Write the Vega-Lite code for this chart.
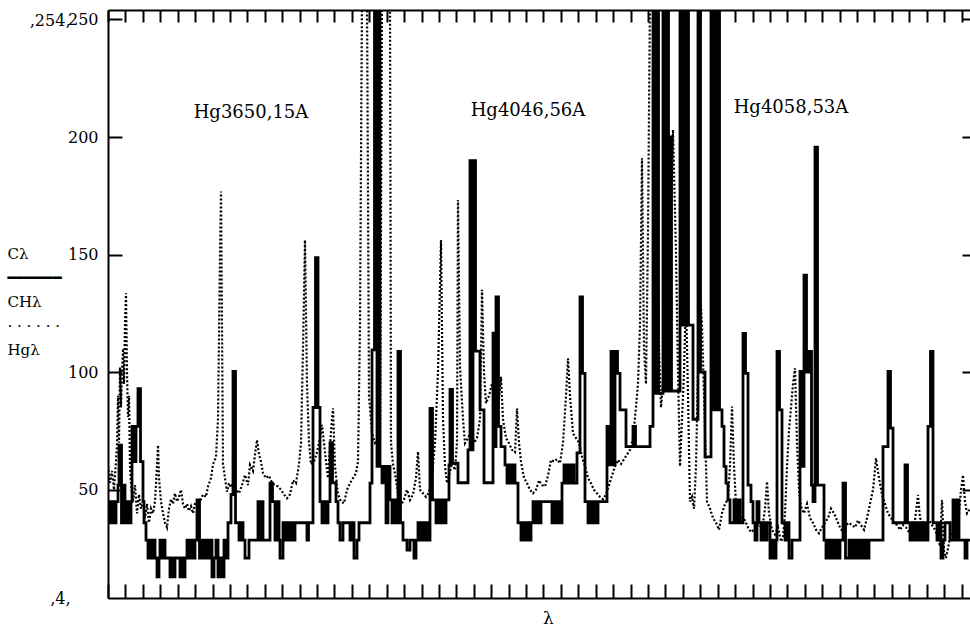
{
  "$schema": "https://vega.github.io/schema/vega-lite/v6.json",
  "width": 862,
  "height": 588,
  "autosize": {"type": "none"},
  "padding": {"left": 108, "top": 10, "right": 0, "bottom": 28},
  "background": "white",
  "config": {"view": {"stroke": null}},
  "datasets": {
    "solid": [
      {"x":0,"y":45},{"x":2,"y":36},{"x":4,"y":45},{"x":6,"y":36},{"x":8,"y":45},{"x":10,"y":52},{"x":11,"y":69},{"x":13.5,"y":36},{"x":15,"y":52},{"x":17,"y":36},{"x":19,"y":45},{"x":21,"y":36},{"x":23,"y":45},{"x":24,"y":77},{"x":26,"y":62},{"x":28,"y":77},{"x":30,"y":93},{"x":32.5,"y":62},{"x":35,"y":45},{"x":36,"y":36},{"x":38,"y":28.6},
      {"x":40,"y":21},{"x":42,"y":28.6},{"x":44,"y":21},{"x":46,"y":28.6},{"x":47,"y":21},{"x":49,"y":13},{"x":51,"y":21},{"x":52,"y":28.6},{"x":54,"y":21},{"x":56,"y":28.6},{"x":57,"y":21},{"x":62,"y":13},{"x":64,"y":21},{"x":65,"y":13},{"x":67,"y":21},{"x":72,"y":13},{"x":74,"y":21},{"x":75,"y":13},{"x":77,"y":21},{"x":79,"y":28.6},
      {"x":81,"y":21},{"x":83,"y":28.6},{"x":85,"y":21},{"x":87,"y":28.6},{"x":89,"y":45.7},{"x":91.5,"y":21},{"x":94,"y":28.6},{"x":96,"y":21},{"x":98,"y":28.6},{"x":100,"y":21},{"x":102,"y":28.6},{"x":104,"y":13},{"x":106,"y":21},{"x":108,"y":28.6},{"x":110,"y":13},{"x":112,"y":21},{"x":114,"y":13},{"x":116,"y":28.6},{"x":118,"y":21},{"x":120,"y":36},
      {"x":123,"y":48},{"x":125,"y":100.3},{"x":127.5,"y":36},{"x":131,"y":28.6},{"x":133,"y":36},{"x":135,"y":28.6},{"x":137,"y":21},{"x":141,"y":28.6},{"x":150,"y":45},{"x":152,"y":28.6},{"x":154,"y":45},{"x":155,"y":28.6},{"x":162,"y":52.8},{"x":164.5,"y":45},{"x":167,"y":28.6},{"x":169,"y":45},{"x":171,"y":28.6},{"x":172,"y":21},{"x":175,"y":36},{"x":177,"y":28.6},{"x":179,"y":36},{"x":181,"y":28.6},{"x":183,"y":36},{"x":185,"y":28.6},{"x":187,"y":36},
      {"x":199,"y":28.6},{"x":200.5,"y":36},{"x":205,"y":85},{"x":207.5,"y":148.7},{"x":210,"y":85},{"x":212,"y":45},{"x":214,"y":36},{"x":216,"y":45},{"x":218,"y":36},{"x":220,"y":45},{"x":222,"y":70},{"x":224.5,"y":53},{"x":228,"y":45},{"x":230,"y":36},{"x":232,"y":28.6},{"x":235,"y":36},{"x":242,"y":28.6},{"x":244,"y":36},{"x":246,"y":21},{"x":249,"y":28.6},{"x":251,"y":36},
      {"x":262,"y":52.8},{"x":264,"y":109.5},{"x":266.5,"y":260},{"x":269,"y":60},{"x":269.5,"y":260},{"x":272,"y":60},{"x":274,"y":53},{"x":276,"y":60},{"x":278,"y":36},{"x":280,"y":60},{"x":282,"y":45.7},{"x":284,"y":36},{"x":286,"y":45.7},{"x":288,"y":36},{"x":290,"y":108.8},{"x":292.5,"y":36},{"x":295,"y":28.6},{"x":299,"y":24.4},{"x":302,"y":28.6},{"x":306,"y":21},{"x":308,"y":28.6},{"x":310,"y":36},{"x":312,"y":28.6},{"x":314,"y":36},{"x":316,"y":28.6},{"x":318,"y":36},{"x":320,"y":28.6},
      {"x":322,"y":84.6},{"x":324.5,"y":45.7},{"x":328,"y":36},{"x":330,"y":45.7},{"x":332,"y":36},{"x":334,"y":45.7},{"x":336,"y":36},{"x":338,"y":45.7},{"x":341,"y":60.6},{"x":342,"y":92.7},{"x":344.5,"y":61.3},{"x":350,"y":53},{"x":360,"y":67},{"x":362,"y":190},{"x":364.5,"y":67},{"x":365,"y":190},{"x":367.5,"y":109},{"x":372,"y":84},{"x":376,"y":53},{"x":385,"y":116.6},{"x":387.5,"y":68.4},{"x":388,"y":132},{"x":390.5,"y":77},{"x":393,"y":68.4},
      {"x":397,"y":60.6},{"x":399,"y":52.8},{"x":401,"y":60.6},{"x":403,"y":52.8},{"x":405,"y":60.6},{"x":407,"y":52.8},{"x":410,"y":36},{"x":413,"y":28.6},{"x":415,"y":36},{"x":417,"y":28.6},{"x":419,"y":36},{"x":421,"y":28.6},{"x":423,"y":36},{"x":425,"y":45},{"x":427,"y":36},{"x":429,"y":45},{"x":431,"y":36},{"x":433,"y":45},{"x":444,"y":36},{"x":446,"y":45},{"x":448,"y":36},{"x":450,"y":45},{"x":452,"y":36},
      {"x":454,"y":52.8},{"x":456,"y":60.6},{"x":458,"y":52.8},{"x":460,"y":60.6},{"x":462,"y":52.8},{"x":464,"y":60.6},{"x":466,"y":52.8},{"x":469,"y":65.7},{"x":472,"y":132},{"x":474.5,"y":99.5},{"x":477,"y":45},{"x":480,"y":36},{"x":482,"y":45},{"x":484,"y":36},{"x":486,"y":45},{"x":488,"y":36},{"x":490,"y":45},{"x":499,"y":77},{"x":501,"y":60.6},{"x":503,"y":108.8},{"x":505.5,"y":60.6},{"x":507,"y":108.8},{"x":509.5,"y":99.5},{"x":512,"y":84},{"x":515,"y":84},{"x":518,"y":68.4},{"x":525,"y":77},{"x":527.5,"y":68.4},
      {"x":542,"y":77},{"x":545,"y":260},{"x":547.5,"y":91},{"x":548,"y":260},{"x":550.5,"y":91},{"x":555,"y":260},{"x":557.5,"y":92},{"x":558,"y":260},{"x":560.5,"y":92},{"x":561,"y":200},{"x":563.5,"y":92},{"x":572,"y":260},{"x":574.5,"y":120},{"x":575,"y":260},{"x":577.5,"y":120},{"x":578,"y":260},{"x":580.5,"y":120},{"x":585,"y":80},{"x":590,"y":260},{"x":592.5,"y":100},{"x":597,"y":64},{"x":603,"y":260},{"x":605.5,"y":84},{"x":606,"y":260},{"x":608.5,"y":84},{"x":609,"y":260},{"x":611.5,"y":84},{"x":614,"y":77},{"x":616,"y":60},{"x":618,"y":52.8},{"x":620,"y":45.7},{"x":622,"y":36},{"x":626,"y":45.7},{"x":628,"y":36},{"x":630,"y":45.7},{"x":632,"y":36},
      {"x":635,"y":116.5},{"x":637.5,"y":99.5},{"x":640,"y":52},{"x":643,"y":45},{"x":645,"y":36},{"x":647,"y":28.6},{"x":649,"y":45},{"x":651,"y":36},{"x":653,"y":28.6},{"x":655,"y":36},{"x":657,"y":28.6},{"x":659,"y":36},{"x":662,"y":21},{"x":664,"y":28.6},{"x":666,"y":21},{"x":668,"y":28.6},{"x":669,"y":108.8},{"x":671.5,"y":84},{"x":674,"y":36},{"x":677,"y":28.6},{"x":679,"y":36},{"x":681,"y":21},{"x":684,"y":28.6},
      {"x":692,"y":100.3},{"x":694.5,"y":60},{"x":696,"y":141.3},{"x":698.5,"y":100},{"x":701,"y":108.8},{"x":703.5,"y":52},{"x":705,"y":45},{"x":707,"y":195.7},{"x":709.5,"y":52},{"x":713,"y":52},{"x":716,"y":28.6},{"x":718,"y":21},{"x":720,"y":28.6},{"x":722,"y":21},{"x":724,"y":28.6},{"x":726,"y":21},{"x":728,"y":28.6},{"x":730,"y":21},{"x":732,"y":28.6},{"x":735,"y":52.8},{"x":737.5,"y":21},{"x":741,"y":28.6},{"x":743,"y":21},{"x":745,"y":28.6},{"x":747,"y":21},{"x":749,"y":28.6},{"x":751,"y":21},{"x":753,"y":28.6},{"x":755,"y":21},{"x":757,"y":28.6},{"x":759,"y":21},{"x":761,"y":28.6},
      {"x":775,"y":68.4},{"x":780,"y":100.3},{"x":782.5,"y":76.2},{"x":785,"y":36},{"x":797,"y":60.6},{"x":799.5,"y":36},{"x":802,"y":28.6},{"x":804,"y":36},{"x":806,"y":28.6},{"x":808,"y":36},{"x":810,"y":28.6},{"x":812,"y":36},{"x":814,"y":28.6},{"x":816,"y":36},{"x":818,"y":28.6},{"x":820,"y":77},{"x":822.5,"y":108.8},{"x":825,"y":36},{"x":829,"y":28.6},{"x":831,"y":36},{"x":833,"y":21},{"x":835,"y":28.6},{"x":837,"y":36},{"x":842,"y":28.6},{"x":845,"y":45.7},{"x":847,"y":28.6},{"x":849,"y":45.7},{"x":851,"y":28.6},{"x":857,"y":21},{"x":859,"y":28.6},{"x":862,"y":28.6}
    ],
    "dotted": [
      {"x":0,"y":60},{"x":2,"y":53},{"x":4,"y":58},{"x":6,"y":50},{"x":8,"y":62},{"x":9,"y":69},{"x":10,"y":90},{"x":11,"y":70},{"x":12,"y":102},{"x":13,"y":85},{"x":14,"y":100},{"x":15,"y":110},{"x":16,"y":95},{"x":17,"y":120},{"x":18,"y":133.6},{"x":19,"y":100},{"x":20,"y":81},{"x":21,"y":90},{"x":22,"y":60},{"x":23,"y":53},{"x":25,"y":45},{"x":27,"y":52},{"x":29,"y":40},{"x":31,"y":48},{"x":33,"y":42},{"x":35,"y":45},{"x":37,"y":38},{"x":39,"y":44},{"x":41,"y":36},{"x":43,"y":42},{"x":45,"y":40},{"x":47,"y":45},{"x":49,"y":60},{"x":50,"y":69},{"x":51,"y":55},{"x":53,"y":45},{"x":55,"y":40},{"x":57,"y":36},{"x":59,"y":34},
      {"x":61,"y":42},{"x":63,"y":46},{"x":65,"y":44},{"x":67,"y":48.5},{"x":69,"y":45},{"x":71,"y":47},{"x":73,"y":50},{"x":75,"y":44},{"x":77,"y":42},{"x":79,"y":44},{"x":81,"y":41},{"x":83,"y":43},{"x":85,"y":40},{"x":87,"y":44},{"x":89,"y":44.3},{"x":92,"y":45},{"x":95,"y":48},{"x":98,"y":47},{"x":100,"y":51.4},{"x":103,"y":55},{"x":105,"y":60.9},{"x":108,"y":64},{"x":110,"y":80},{"x":112,"y":150},{"x":113,"y":176.8},{"x":114,"y":120},{"x":115,"y":60.9},{"x":117,"y":55},{"x":119,"y":49.2},
      {"x":121,"y":52.8},{"x":123,"y":51},{"x":125,"y":52.8},{"x":128,"y":50},{"x":131,"y":48.5},{"x":134,"y":52},{"x":137,"y":56.3},{"x":140,"y":52},{"x":142,"y":60.6},{"x":145,"y":58},{"x":147,"y":65},{"x":149,"y":71.2},{"x":151,"y":65},{"x":153,"y":62},{"x":155,"y":57},{"x":158,"y":55},{"x":161,"y":56},{"x":164,"y":53},{"x":167,"y":52},{"x":170,"y":51.4},{"x":173,"y":50},{"x":176,"y":48},{"x":179,"y":46.4},{"x":182,"y":48},{"x":185,"y":54},{"x":188,"y":52.8},{"x":191,"y":60.9},{"x":193,"y":70},{"x":195,"y":110},{"x":197,"y":156.2},{"x":199,"y":95},
      {"x":201,"y":70},{"x":203,"y":60.9},{"x":206,"y":62},{"x":209,"y":66},{"x":212,"y":72},{"x":214,"y":77.6},{"x":216,"y":70},{"x":218,"y":62},{"x":220,"y":55},{"x":223,"y":75},{"x":225,"y":84.6},{"x":227,"y":60},{"x":230,"y":48},{"x":233,"y":45},{"x":236,"y":44.3},{"x":239,"y":50},{"x":242,"y":52.8},{"x":245,"y":55},{"x":248,"y":57},{"x":250,"y":62},{"x":252,"y":120},{"x":254,"y":260},{"x":259,"y":260},{"x":261,"y":90},{"x":264,"y":74},{"x":267,"y":70},{"x":270,"y":72},{"x":272,"y":67},{"x":274,"y":260},{"x":282,"y":260},{"x":283,"y":69.8},
      {"x":285,"y":60.9},{"x":287,"y":57},{"x":290,"y":48.5},{"x":293,"y":43.6},{"x":296,"y":46},{"x":299,"y":50},{"x":302,"y":45.7},{"x":305,"y":48},{"x":308,"y":55},{"x":310,"y":66.2},{"x":312,"y":50},{"x":315,"y":48.5},{"x":318,"y":47},{"x":321,"y":49},{"x":324,"y":56},{"x":327,"y":70},{"x":330,"y":100},{"x":333,"y":156.2},{"x":335,"y":80},{"x":337,"y":60},{"x":339,"y":52.8},{"x":341,"y":56},{"x":344,"y":61.3},{"x":347,"y":58.4},{"x":349,"y":70},{"x":350,"y":173.2},{"x":352,"y":102.4},{"x":355,"y":80},{"x":357,"y":69.8},
      {"x":360,"y":72},{"x":363,"y":75},{"x":366,"y":70},{"x":369,"y":72},{"x":372,"y":80},{"x":374,"y":135},{"x":376,"y":100},{"x":378,"y":86.8},{"x":381,"y":90},{"x":384,"y":95},{"x":387,"y":88},{"x":390,"y":84},{"x":393,"y":98},{"x":395,"y":80},{"x":398,"y":72},{"x":401,"y":69.8},{"x":404,"y":67},{"x":407,"y":66},{"x":409,"y":84.6},{"x":411,"y":70},{"x":413,"y":62},{"x":416,"y":55},{"x":419,"y":52.8},{"x":422,"y":50},{"x":425,"y":48.5},{"x":428,"y":50},{"x":431,"y":54},{"x":434,"y":52},{"x":437,"y":51.4},{"x":440,"y":56},
      {"x":443,"y":62.7},{"x":446,"y":62},{"x":449,"y":63},{"x":452,"y":61.3},{"x":455,"y":70},{"x":458,"y":90},{"x":460,"y":105.9},{"x":462,"y":90},{"x":465,"y":74},{"x":468,"y":72},{"x":471,"y":70},{"x":474,"y":64},{"x":477,"y":60},{"x":480,"y":55},{"x":483,"y":52.8},{"x":486,"y":50},{"x":489,"y":48.5},{"x":492,"y":47},{"x":495,"y":46},{"x":498,"y":48},{"x":501,"y":52},{"x":504,"y":56},{"x":507,"y":60},{"x":510,"y":62.7},{"x":513,"y":61},{"x":516,"y":63},{"x":519,"y":65},{"x":522,"y":67},{"x":525,"y":72},{"x":528,"y":85},
      {"x":530,"y":95.3},{"x":532,"y":120},{"x":534,"y":191},{"x":536,"y":110},{"x":538,"y":95},{"x":540,"y":160},{"x":542,"y":260},{"x":549,"y":260},{"x":551,"y":110},{"x":553,"y":85},{"x":556,"y":100},{"x":558,"y":120},{"x":560,"y":100},{"x":562,"y":150},{"x":565,"y":203},{"x":568,"y":150},{"x":570,"y":100},{"x":572,"y":60},{"x":574,"y":80},{"x":576,"y":100},{"x":578,"y":132},{"x":580,"y":90},{"x":582,"y":45},{"x":584,"y":47},{"x":586,"y":42},{"x":588,"y":60},{"x":590,"y":100},{"x":592,"y":136},{"x":594,"y":120},{"x":596,"y":90},{"x":599,"y":45},
      {"x":602,"y":42},{"x":605,"y":38},{"x":608,"y":36},{"x":611,"y":33},{"x":614,"y":40},{"x":617,"y":44},{"x":620,"y":46},{"x":622,"y":60},{"x":624,"y":85.4},{"x":626,"y":60},{"x":628,"y":44},{"x":631,"y":40},{"x":634,"y":38},{"x":637,"y":37},{"x":640,"y":34},{"x":643,"y":32},{"x":646,"y":33},{"x":649,"y":35},{"x":652,"y":34},{"x":655,"y":36},{"x":657,"y":42},{"x":659,"y":53.5},{"x":661,"y":40},{"x":664,"y":33},{"x":667,"y":31},{"x":670,"y":34},{"x":673,"y":28},{"x":675,"y":30},{"x":677,"y":40},{"x":679,"y":60},
      {"x":681,"y":75},{"x":683,"y":85},{"x":685,"y":95},{"x":687,"y":101.7},{"x":689,"y":70},{"x":691,"y":50},{"x":693,"y":42.9},{"x":696,"y":40},{"x":699,"y":44},{"x":702,"y":38},{"x":705,"y":36},{"x":708,"y":33},{"x":711,"y":31.5},{"x":714,"y":34},{"x":717,"y":36},{"x":720,"y":38},{"x":723,"y":42},{"x":726,"y":40},{"x":729,"y":37},{"x":732,"y":34},{"x":735,"y":32},{"x":738,"y":35},{"x":741,"y":36},{"x":744,"y":35},{"x":747,"y":34},{"x":750,"y":37},{"x":753,"y":35},{"x":756,"y":33},{"x":759,"y":38},
      {"x":762,"y":44},{"x":765,"y":50},{"x":768,"y":63.4},{"x":771,"y":55},{"x":774,"y":48},{"x":777,"y":44},{"x":780,"y":40},{"x":783,"y":38},{"x":786,"y":36},{"x":789,"y":35},{"x":792,"y":33},{"x":795,"y":35},{"x":798,"y":34},{"x":801,"y":32},{"x":804,"y":35},{"x":807,"y":37},{"x":810,"y":47.8},{"x":812,"y":38},{"x":815,"y":36},{"x":818,"y":34},{"x":821,"y":37},{"x":824,"y":35},{"x":827,"y":33},{"x":830,"y":30},{"x":832,"y":26},{"x":834,"y":45.7},{"x":836,"y":24},{"x":838,"y":21},{"x":840,"y":25},
      {"x":842,"y":30},{"x":845,"y":33},{"x":848,"y":31},{"x":851,"y":40},{"x":853,"y":50},{"x":855,"y":56.3},{"x":857,"y":45},{"x":859,"y":40},{"x":862,"y":42}
    ],
    "notes": [
      {"x":143,"y":210.2,"label":"Hg3650,15A"},
      {"x":420,"y":211,"label":"Hg4046,56A"},
      {"x":683,"y":212.3,"label":"Hg4058,53A"}
    ]
  },
  "resolve": {"axis": {"x": "independent", "y": "independent"}},
  "layer": [
    {
      "data": {"name": "solid"},
      "mark": {"type": "line", "interpolate": "step-after", "color": "black", "strokeWidth": 2.8, "clip": true},
      "encoding": {
        "x": {"field": "x", "type": "quantitative", "scale": {"domain": [0, 862], "nice": false, "zero": false},
          "axis": {"orient": "bottom", "values": [0,17.42,34.84,52.26,69.68,87.1,104.52,121.94,139.36,156.78,174.2,191.62,209.04,226.46,243.88,261.3,278.72,296.14,313.56,330.98,348.4,365.82,383.24,400.66,418.08,435.5,452.92,470.34,487.76,505.18,522.6,540.02,557.44,574.86,592.28,609.7,627.12,644.54,661.96,679.38,696.8,714.22,731.64,749.06,766.48,783.9,801.32,818.74,836.16,853.58],
            "tickSize": -14, "tickWidth": 2, "tickColor": "black", "labels": false, "grid": false,
            "domainColor": "black", "domainWidth": 2,
            "title": "λ", "titleFont": "DejaVu Serif", "titleFontSize": 17, "titleFontWeight": "normal", "titleColor": "black",
            "titleX": 440, "titleY": 20, "titleBaseline": "middle", "titleAlign": "center"}},
        "y": {"field": "y", "type": "quantitative", "scale": {"domain": [4, 254], "nice": false, "zero": false},
          "axis": {"orient": "left", "values": [4, 50, 100, 150, 200, 250, 254],
            "tickSize": -14, "tickWidth": 2, "tickColor": "black",
            "tickOpacity": {"condition": {"test": "datum.value == 4 || datum.value == 254", "value": 0}, "value": 1},
            "labelPadding": {"condition": {"test": "datum.value == 4 || datum.value == 254", "value": 52}, "value": 24},
            "labelOffset": {"condition": {"test": "datum.value == 254", "value": 10}, "value": 0},
            "labelExpr": "datum.value == 4 || datum.value == 254 ? '‚' + datum.label + '‚' : datum.label",
            "labelFont": "DejaVu Serif", "labelFontSize": 16, "labelColor": "black",
            "labelOverlap": false, "labelFlush": false, "labelBound": false, "grid": false,
            "domainColor": "black", "domainWidth": 2,
            "title": ["Cλ", "━━━━━━", "CHλ", "· · · · · ·", "Hgλ"],
            "titleAngle": 0, "titleAlign": "left", "titleBaseline": "top", "titleX": -101, "titleY": 236,
            "titleFont": "DejaVu Serif", "titleFontSize": 15, "titleFontWeight": "normal", "titleLineHeight": 24, "titleColor": "black"}}
      }
    },
    {
      "data": {"name": "dotted"},
      "mark": {"type": "line", "interpolate": "linear", "color": "black", "strokeWidth": 2.2, "strokeDash": [2, 2], "clip": true},
      "encoding": {
        "x": {"field": "x", "type": "quantitative",
          "axis": {"orient": "top", "values": [0,17.42,34.84,52.26,69.68,87.1,104.52,121.94,139.36,156.78,174.2,191.62,209.04,226.46,243.88,261.3,278.72,296.14,313.56,330.98,348.4,365.82,383.24,400.66,418.08,435.5,452.92,470.34,487.76,505.18,522.6,540.02,557.44,574.86,592.28,609.7,627.12,644.54,661.96,679.38,696.8,714.22,731.64,749.06,766.48,783.9,801.32,818.74,836.16,853.58],
            "tickSize": -12, "tickWidth": 2, "tickColor": "black", "labels": false, "grid": false,
            "domainColor": "black", "domainWidth": 2, "title": null}},
        "y": {"field": "y", "type": "quantitative",
          "axis": {"orient": "right", "values": [50, 100, 150, 200, 250], "tickSize": -8, "tickWidth": 2, "tickColor": "black",
            "labels": false, "domain": false, "grid": false, "title": null}}
      }
    },
    {
      "data": {"name": "notes"},
      "mark": {"type": "text", "font": "DejaVu Serif", "fontSize": 18, "color": "black", "align": "center", "baseline": "middle"},
      "encoding": {
        "x": {"field": "x", "type": "quantitative", "axis": null},
        "y": {"field": "y", "type": "quantitative", "axis": null},
        "text": {"field": "label", "type": "nominal"}
      }
    }
  ]
}
